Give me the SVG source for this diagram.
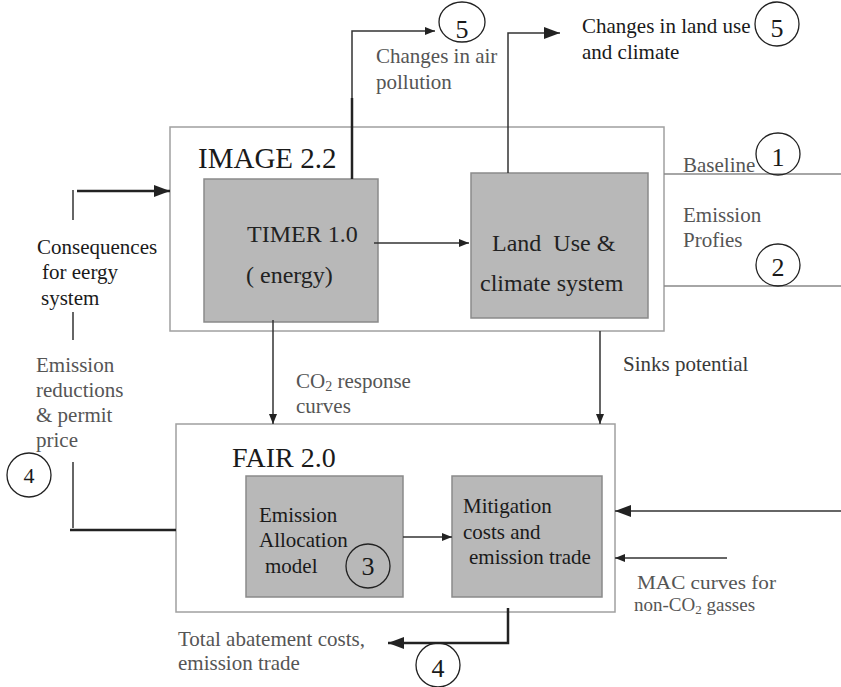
<svg xmlns="http://www.w3.org/2000/svg" width="841" height="687" viewBox="0 0 841 687" font-family="'Liberation Serif', 'DejaVu Serif', serif">
<defs>
<style>
text{font-family:'Liberation Serif','DejaVu Serif',serif;}
.t{font-size:21px;fill:#1a1a1a;}
.g{font-size:21px;fill:#555;}
.box{fill:#fff;stroke:#a0a0a0;stroke-width:1.5;}
.sub{fill:#b8b8b8;stroke:#8a8a8a;stroke-width:1.5;}
.ln{fill:none;stroke:#333;stroke-width:1.5;}
.thk{fill:none;stroke:#222;stroke-width:2.5;}
.gl{fill:none;stroke:#888;stroke-width:1.5;}
.c{fill:none;stroke:#222;stroke-width:1.3;}
.n{font-size:26px;fill:#1a1a1a;text-anchor:middle;}
</style>
<marker id="a" markerWidth="10" markerHeight="8" refX="10" refY="4" orient="auto" markerUnits="userSpaceOnUse"><path d="M0,0 L10,4 L0,8 Z" fill="#222"/></marker>
<marker id="b" markerWidth="16" markerHeight="12" refX="16" refY="6" orient="auto" markerUnits="userSpaceOnUse"><path d="M0,0 L16,6 L0,12 Z" fill="#222"/></marker>
</defs>

<g id="image22">
<rect class="box" x="170" y="127" width="494" height="204"/>
<text x="198" y="168" font-size="29" fill="#1a1a1a">IMAGE 2.2</text>
</g>
<g id="timer">
<rect class="sub" x="204" y="179" width="174" height="143"/>
<text x="247" y="242" font-size="24" fill="#222">TIMER 1.0</text>
<text x="246" y="283" font-size="24" fill="#222">( energy)</text>
</g>
<g id="landuse">
<rect class="sub" x="471" y="173" width="177" height="145"/>
<text x="492" y="251" font-size="24" fill="#222" xml:space="preserve">Land  Use &amp;</text>
<text x="480" y="291" font-size="24" fill="#222">climate system</text>
</g>
<g id="fair20">
<rect class="box" x="176" y="424" width="439" height="188"/>
<text x="232" y="467" font-size="28" fill="#1a1a1a">FAIR 2.0</text>
</g>
<g id="allocation">
<rect class="sub" x="246" y="476" width="157" height="121"/>
<text class="t" x="259" y="522">Emission</text>
<text class="t" x="259" y="547">Allocation</text>
<text class="t" x="265" y="573">model</text>
<ellipse class="c" cx="368" cy="566" rx="22" ry="22"/>
<text class="n" x="368" y="575">3</text>
</g>
<g id="mitigation">
<rect class="sub" x="452" y="476" width="150" height="121"/>
<text class="t" x="463" y="513">Mitigation</text>
<text class="t" x="463" y="539">costs and</text>
<text class="t" x="469" y="564">emission trade</text>
</g>

<g id="connectors">
<path class="thk" d="M352,179 V98" stroke-width="2"/>
<path class="ln" d="M352,98 V31 H435" marker-end="url(#a)"/>
<path class="ln" d="M508,173 V33 H560" marker-end="url(#b)" stroke-width="2"/>
<path class="ln" d="M374,243 H469" marker-end="url(#a)"/>
<path class="ln" d="M73,190 V220"/>
<path class="thk" d="M77,191 H170" marker-end="url(#b)"/>
<path class="ln" d="M73,312 V340"/>
<path class="ln" d="M73,462 V528"/>
<path class="thk" d="M70,530 H176"/>
<path class="ln" d="M273,320 V424" marker-end="url(#a)"/>
<path class="ln" d="M600,331 V424" marker-end="url(#a)"/>
<path class="ln" d="M403,537 H452" marker-end="url(#a)"/>
<path class="ln" d="M841,511 H615" marker-end="url(#b)" stroke-width="2"/>
<path class="ln" d="M727,558 H615" marker-end="url(#a)"/>
<path class="thk" d="M508,608 V643 H388" marker-end="url(#b)"/>
<path class="gl" d="M664,174 H841"/>
<path class="gl" d="M664,286 H841"/>
</g>

<g id="labels">
<text class="g" x="376" y="63">Changes in air</text>
<text class="g" x="376" y="89">pollution</text>
<ellipse class="c" cx="462" cy="22" rx="23" ry="20"/>
<text class="n" x="462" y="38">5</text>

<text class="t" x="582" y="33">Changes in land use</text>
<text class="t" x="582" y="59">and climate</text>
<ellipse class="c" cx="777" cy="24" rx="22" ry="22"/>
<text class="n" x="777" y="37">5</text>

<text class="g" x="683" y="172">Baseline</text>
<ellipse class="c" cx="778" cy="154" rx="22" ry="21"/>
<text class="n" x="778" y="166">1</text>
<text class="g" x="683" y="222">Emission</text>
<text class="g" x="683" y="247">Profies</text>
<ellipse class="c" cx="778" cy="265" rx="22" ry="21"/>
<text class="n" x="778" y="276">2</text>

<text class="t" x="37" y="254">Consequences</text>
<text class="t" x="42" y="279">for eergy</text>
<text class="t" x="41" y="305">system</text>

<text class="g" x="36" y="372">Emission</text>
<text class="g" x="36" y="397">reductions</text>
<text class="g" x="36" y="422">&amp; permit</text>
<text class="g" x="36" y="447">price</text>
<ellipse class="c" cx="29" cy="475" rx="22" ry="22"/>
<text class="n" x="29" y="483" style="font-size:22px">4</text>

<text class="g" x="296" y="388">CO<tspan font-size="14" dy="3">2</tspan><tspan dy="-3"> response</tspan></text>
<text class="g" x="296" y="413">curves</text>

<text class="g" x="623" y="371" style="fill:#3a3a3a">Sinks potential</text>

<text class="g" x="637" y="589" style="font-size:19px" textLength="139" lengthAdjust="spacingAndGlyphs">MAC curves for</text>
<text class="g" x="634" y="611" style="font-size:19px">non-CO<tspan font-size="13" dy="3">2</tspan><tspan dy="-3"> gasses</tspan></text>

<text class="g" x="178" y="646">Total abatement costs,</text>
<text class="g" x="178" y="670">emission trade</text>
<ellipse class="c" cx="438" cy="665" rx="22" ry="22"/>
<text class="n" x="438" y="677">4</text>
</g>
</svg>
